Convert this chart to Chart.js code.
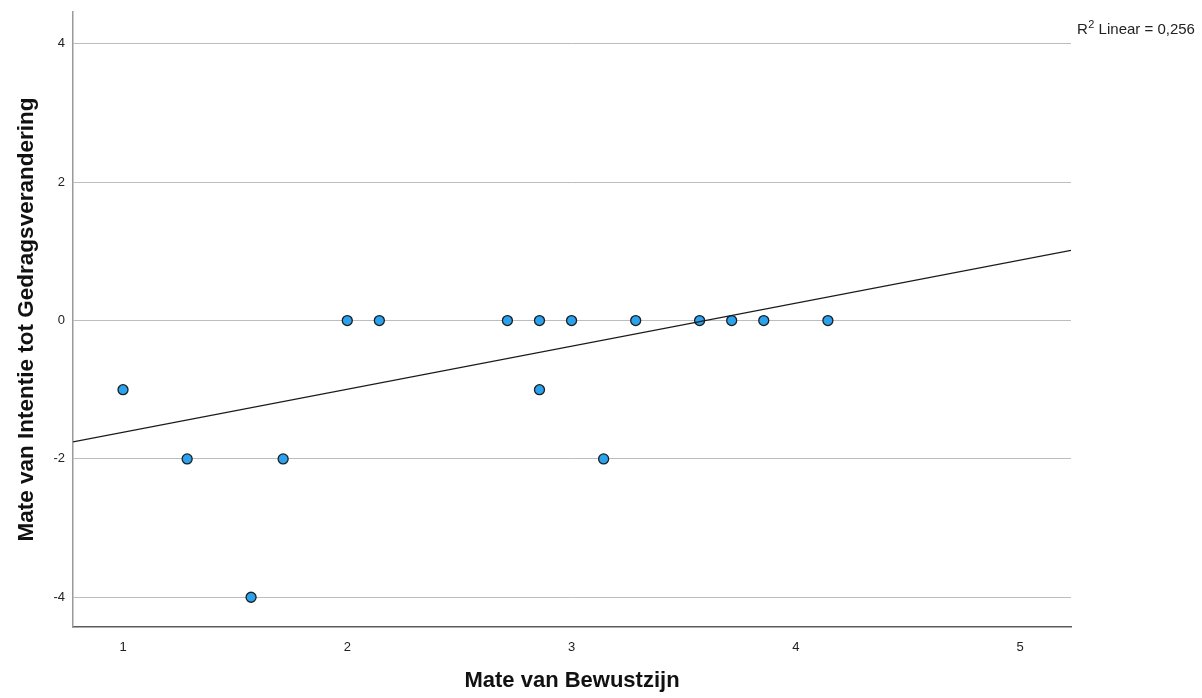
<!DOCTYPE html>
<html>
<head>
<meta charset="utf-8">
<script src="https://cdn.jsdelivr.net/npm/chart.js@4/dist/chart.umd.min.js"></script>
<style>
  html, body { margin: 0; padding: 0; background: #fff; }
  canvas { display: block; }
</style>
</head>
<body>
<canvas id="scatterChart" width="1202" height="698"></canvas>
<script>
// Data
const bewustzijn = [1, 1.286, 1.571, 1.714, 2, 2.143, 2.714, 2.857, 2.857, 3, 3.143, 3.286, 3.571, 3.714, 3.857, 4.143];
const intentie   = [-1, -2, -4, -2, 0, 0, 0, 0, -1, 0, -2, 0, 0, 0, 0, 0];
const fitIntercept = -2.237;
const fitSlope = 0.622;
const rSquared = '0,256';
const xTicks = [1, 2, 3, 4, 5];
const yTicks = [-4, -2, 0, 2, 4];
const xRange = [0.777, 5.227];
const yRange = [-4.43, 4.46];

document.addEventListener('DOMContentLoaded', function() {
    const points = bewustzijn.map(function(x, i) { return { x: x, y: intentie[i] }; });
    const fitLine = xRange.map(function(x) { return { x: x, y: fitIntercept + fitSlope * x }; });

    // R² label in the top right corner
    const rLabel = {
        id: 'rLabel',
        afterDraw: function(chart) {
            const c = chart.ctx;
            c.save();
            c.fillStyle = '#222';
            c.textBaseline = 'alphabetic';
            c.textAlign = 'left';
            let x = 1077;
            c.font = '15px "Liberation Sans", Arial, sans-serif';
            c.fillText('R', x, 34);
            x += c.measureText('R').width;
            c.font = '11px "Liberation Sans", Arial, sans-serif';
            c.fillText('2', x + 0.5, 28);
            x += c.measureText('2').width + 0.5;
            c.font = '15px "Liberation Sans", Arial, sans-serif';
            c.fillText(' Linear = ' + rSquared, x, 34);
            c.restore();
        }
    };

    const ctx = document.getElementById('scatterChart').getContext('2d');
    new Chart(ctx, {
        type: 'scatter',
        data: {
            datasets: [{
                label: 'fit',
                data: fitLine,
                showLine: true,
                borderColor: '#1a1a1a',
                borderWidth: 1.2,
                pointRadius: 0,
                order: 0
            }, {
                label: 'punten',
                data: points,
                backgroundColor: '#29a3ef',
                borderColor: '#1e1e1e',
                borderWidth: 1.3,
                pointRadius: 5,
                order: 1
            }]
        },
        options: {
            responsive: false,
            animation: false,
            layout: { padding: { left: 9, top: 12, right: 131, bottom: 0 } },
            plugins: { legend: { display: false }, tooltip: { enabled: false } },
            scales: {
                x: {
                    type: 'linear',
                    min: xRange[0],
                    max: xRange[1],
                    afterBuildTicks: function(scale) {
                        scale.ticks = xTicks.map(function(v) { return { value: v }; });
                    },
                    afterFit: function(scale) {
                        scale.height = 71;
                        scale.paddingLeft = 0;
                        scale.paddingRight = 0;
                    },
                    grid: { display: false, drawTicks: false },
                    border: { display: true, color: '#5a5a5a', width: 1.5 },
                    ticks: {
                        padding: 13,
                        color: '#222',
                        font: { family: '"Liberation Sans", Arial, sans-serif', size: 13 },
                        callback: function(v) { return String(v); }
                    },
                    title: {
                        display: true,
                        text: 'Mate van Bewustzijn',
                        color: '#111',
                        font: { family: '"Liberation Sans", Arial, sans-serif', size: 22, weight: 'bold' }
                    }
                },
                y: {
                    type: 'linear',
                    min: yRange[0],
                    max: yRange[1],
                    afterBuildTicks: function(scale) {
                        scale.ticks = yTicks.map(function(v) { return { value: v }; });
                    },
                    afterFit: function(scale) {
                        scale.width = 64;
                        scale.paddingTop = 0;
                        scale.paddingBottom = 0;
                    },
                    grid: { color: '#bdbdbd', lineWidth: 1, drawTicks: false },
                    border: { display: true, color: '#9a9a9a', width: 1.5 },
                    ticks: {
                        padding: 8,
                        color: '#222',
                        font: { family: '"Liberation Sans", Arial, sans-serif', size: 13 },
                        callback: function(v) { return String(v); }
                    },
                    title: {
                        display: true,
                        text: 'Mate van Intentie tot Gedragsverandering',
                        color: '#111',
                        font: { family: '"Liberation Sans", Arial, sans-serif', size: 22.5, weight: 'bold' }
                    }
                }
            }
        },
        plugins: [rLabel]
    });
});
</script>
</body>
</html>
